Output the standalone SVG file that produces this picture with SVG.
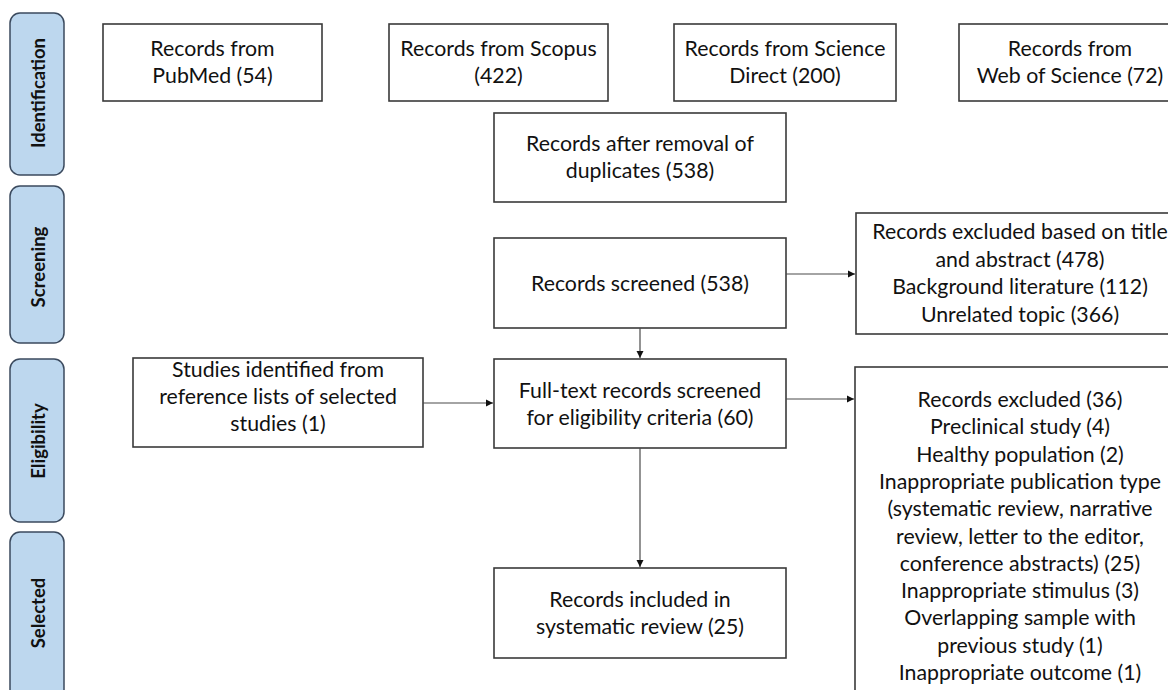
<svg xmlns="http://www.w3.org/2000/svg" width="1168" height="690" viewBox="0 0 1168 690">
<defs>
<style>
.box{fill:#fff;stroke:#3a3a3a;stroke-width:1.6}
.side{fill:#bdd7ee;stroke:#3b4a5e;stroke-width:1.5}
.t{font-family:Lato,"Liberation Sans",sans-serif;font-size:21.3px;fill:#111;text-anchor:middle}
.s{font-family:Lato,"Liberation Sans",sans-serif;font-size:18.5px;font-weight:bold;fill:#111;text-anchor:middle;dominant-baseline:central}
.c{stroke:#4a4a4a;stroke-width:1.2;fill:none;marker-end:url(#ah)}
</style>
<marker id="ah" markerUnits="userSpaceOnUse" markerWidth="10" markerHeight="10" refX="7" refY="5" orient="auto">
<path d="M0,1.5 L7,5 L0,8.5 Z" fill="#111"/>
</marker>
</defs>
<rect width="1168" height="690" fill="#fff"/>
<g id="stage-identification"><rect class="side" x="10" y="13" width="54" height="162" rx="10"/><text class="s" transform="translate(38,93) rotate(-90)">Identification</text></g>
<g id="stage-screening"><rect class="side" x="10" y="186" width="54" height="157" rx="10"/><text class="s" transform="translate(38,267) rotate(-90)">Screening</text></g>
<g id="stage-eligibility"><rect class="side" x="10" y="359" width="54" height="163" rx="10"/><text class="s" transform="translate(38,441) rotate(-90)">Eligibility</text></g>
<g id="stage-selected"><rect class="side" x="10" y="532" width="54" height="175" rx="10"/><text class="s" transform="translate(38,613) rotate(-90)">Selected</text></g>

<g id="pubmed"><rect class="box" x="103" y="24" width="219" height="77"/><text class="t" x="212.5" y="56">Records from</text><text class="t" x="212.5" y="83">PubMed (54)</text></g>
<g id="scopus"><rect class="box" x="389" y="24" width="219" height="77"/><text class="t" x="498.5" y="56">Records from Scopus</text><text class="t" x="498.5" y="83">(422)</text></g>
<g id="sciencedirect"><rect class="box" x="674" y="24" width="222" height="77"/><text class="t" x="785" y="56">Records from Science</text><text class="t" x="785" y="83">Direct (200)</text></g>
<g id="wos"><rect class="box" x="959" y="24" width="222" height="77"/><text class="t" x="1070" y="56">Records from</text><text class="t" x="1070" y="83">Web of Science (72)</text></g>

<g id="dedup"><rect class="box" x="494" y="113" width="292" height="89"/><text class="t" x="640" y="151">Records after removal of</text><text class="t" x="640" y="178">duplicates (538)</text></g>
<g id="screened"><rect class="box" x="494" y="238" width="292" height="90"/><text class="t" x="640" y="291">Records screened (538)</text></g>
<g id="excluded-title"><rect class="box" x="856" y="213" width="330" height="121"/><text class="t" x="1020" y="239">Records excluded based on title</text><text class="t" x="1020" y="267">and abstract (478)</text><text class="t" x="1020" y="294">Background literature (112)</text><text class="t" x="1020" y="322">Unrelated topic (366)</text></g>
<g id="reflists"><rect class="box" x="133" y="358" width="290" height="89"/><text class="t" x="278" y="377">Studies identified from</text><text class="t" x="278" y="404">reference lists of selected</text><text class="t" x="278" y="431">studies (1)</text></g>
<g id="fulltext"><rect class="box" x="494" y="359" width="292" height="89"/><text class="t" x="640" y="398">Full-text records screened</text><text class="t" x="640" y="425">for eligibility criteria (60)</text></g>
<g id="excluded-fulltext"><rect class="box" x="855" y="367" width="330" height="340"/>
<text class="t" x="1020" y="407">Records excluded (36)</text>
<text class="t" x="1020" y="434.3">Preclinical study (4)</text>
<text class="t" x="1020" y="461.6">Healthy population (2)</text>
<text class="t" x="1020" y="488.9">Inappropriate publication type</text>
<text class="t" x="1020" y="516.2">(systematic review, narrative</text>
<text class="t" x="1020" y="543.5">review, letter to the editor,</text>
<text class="t" x="1020" y="570.8">conference abstracts) (25)</text>
<text class="t" x="1020" y="598.1">Inappropriate stimulus (3)</text>
<text class="t" x="1020" y="625.4">Overlapping sample with</text>
<text class="t" x="1020" y="652.7">previous study (1)</text>
<text class="t" x="1020" y="680">Inappropriate outcome (1)</text>
</g>
<g id="included"><rect class="box" x="494" y="568" width="292" height="90"/><text class="t" x="640" y="607">Records included in</text><text class="t" x="640" y="634">systematic review (25)</text></g>

<g id="connectors">
<line class="c" x1="786" y1="274" x2="855" y2="274"/>
<line class="c" x1="640" y1="328" x2="640" y2="358"/>
<line class="c" x1="423" y1="403" x2="493" y2="403"/>
<line class="c" x1="786" y1="399" x2="854" y2="399"/>
<line class="c" x1="640" y1="448" x2="640" y2="567"/>
</g>
</svg>
